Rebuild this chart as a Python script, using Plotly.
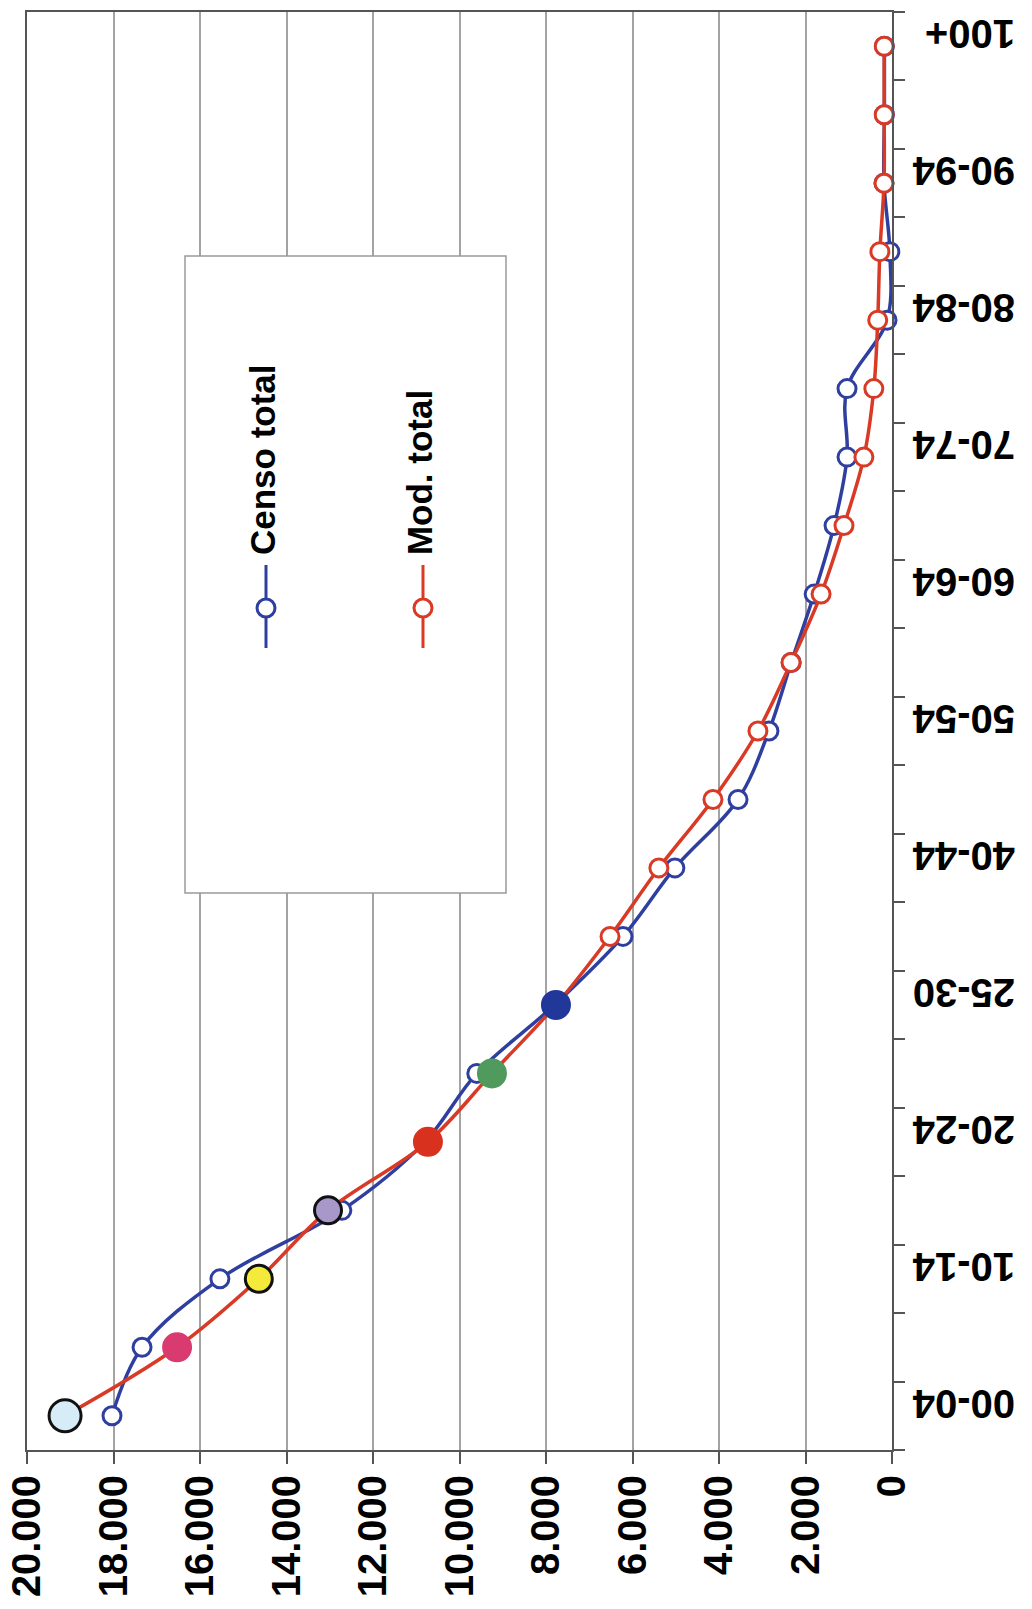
import plotly.graph_objects as go

# ---- data ----
age_index = list(range(21))
tick_positions = [0, 2, 4, 6, 8, 10, 12, 14, 16, 18, 20]
tick_labels = ["00-04", "10-14", "20-24", "25-30", "40-44", "50-54",
               "60-64", "70-74", "80-84", "90-94", "100+"]
censo_total = [18035, 17340, 15540, 12720, 10800, 9600, 7800, 6220, 5020, 3560,
               2845, 2330, 1800, 1340, 1040, 1040, 115, 50, 185, 175, 175]
mod_total = [19120, 16530, 14640, 13040, 10730, 9250, 7770, 6520, 5390, 4140,
             3100, 2335, 1640, 1110, 650, 420, 330, 280, 185, 180, 180]
highlight_index = [0, 1, 2, 3, 4, 5, 6]
highlight_colors = ["#d6edf7", "#d93a70", "#f3ea3a", "#a898c9", "#d8321f", "#4f9a5c", "#22379a"]
highlight_outline = ["#111111", "#d93a70", "#111111", "#111111", "#d8321f", "#4f9a5c", "#22379a"]
highlight_sizes = [32, 27, 27, 27, 27, 27, 27]
x_ticks = [0, 2000, 4000, 6000, 8000, 10000, 12000, 14000, 16000, 18000, 20000]
x_tick_text = ["0", "2.000", "4.000", "6.000", "8.000", "10.000",
               "12.000", "14.000", "16.000", "18.000", "20.000"]

BLUE = "#2f3f9f"
RED = "#d93a26"
FONT = "Liberation Sans, Arial, sans-serif"

fig = go.Figure()

fig.add_trace(go.Scatter(
    x=censo_total, y=age_index, mode="lines+markers", name="Censo total",
    line=dict(color=BLUE, width=3.5, shape="spline", smoothing=1.0),
    marker=dict(symbol="circle", size=18, color="white", opacity=1,
                line=dict(color=BLUE, width=3)),
    showlegend=False, cliponaxis=False,
))
fig.add_trace(go.Scatter(
    x=mod_total, y=age_index, mode="lines+markers", name="Mod. total",
    line=dict(color=RED, width=3.5, shape="spline", smoothing=1.0),
    marker=dict(symbol="circle", size=18, color="white", opacity=1,
                line=dict(color=RED, width=3)),
    showlegend=False, cliponaxis=False,
))
fig.add_trace(go.Scatter(
    x=[mod_total[i] for i in highlight_index],
    y=[age_index[i] for i in highlight_index],
    mode="markers",
    marker=dict(size=highlight_sizes, color=highlight_colors, opacity=1,
                line=dict(color=highlight_outline, width=3)),
    showlegend=False, cliponaxis=False,
))

# page body has an 8px margin: compensate so the plot lands where the reference has it
OFF = 8
W, H = 1032 - OFF, 1609 - OFF
PL, PR, PT, PB = 27, 892, 12, 1450          # target viewport pixels
PW, PH = PR - PL, PB - PT
lx0, lx1 = (185 - PL) / PW, (506 - PL) / PW
ly0, ly1 = (PB - 893) / PH, (PB - 256) / PH
shapes = [dict(type="rect", xref="paper", yref="paper", x0=lx0, x1=lx1, y0=ly0, y1=ly1,
               line=dict(color="#9a9a9a", width=1.5), fillcolor="white", layer="above")]
entries = [("Censo total", BLUE, (266 - PL) / PW), ("Mod. total", RED, (423 - PL) / PW)]
annotations = []
for name, col, xp in entries:
    shapes.append(dict(type="line", xref="paper", yref="paper", x0=xp, x1=xp,
                       y0=(PB - 648) / PH, y1=(PB - 565) / PH,
                       line=dict(color=col, width=3), layer="above"))
    shapes.append(dict(type="circle", xref="paper", yref="paper", xsizemode="pixel",
                       ysizemode="pixel", xanchor=xp, yanchor=(PB - 608) / PH,
                       x0=-9, x1=9, y0=-9, y1=9, fillcolor="white",
                       line=dict(color=col, width=3), layer="above"))
    annotations.append(dict(text=name, xref="paper", yref="paper", x=xp - 0.004,
                            y=(PB - 557) / PH, xanchor="center", yanchor="bottom",
                            textangle=-90, showarrow=False,
                            font=dict(family=FONT, size=35, color="black", weight="bold")))

fig.update_layout(
    width=W, height=H,
    margin=dict(l=PL - OFF, r=W - (PR - OFF), t=PT - OFF, b=H - (PB - OFF)),
    paper_bgcolor="white", plot_bgcolor="white",
    shapes=shapes, annotations=annotations,
    showlegend=False,
)
fig.update_xaxes(
    range=[20000, 0], tickvals=x_ticks, ticktext=x_tick_text, tickangle=-90,
    showgrid=True, gridcolor="#a3a3a3", gridwidth=1.5,
    showline=True, linecolor="#555555", linewidth=2, mirror=True,
    ticks="outside", ticklen=12, tickcolor="#555555", tickwidth=1.5,
    ticklabelstandoff=-5, automargin=False, ticklabeloverflow="allow",
    tickfont=dict(family=FONT, size=40, color="black", weight="bold"),
    zeroline=False,
)
fig.update_yaxes(
    range=[-0.5, 20.5], side="right", tickvals=tick_positions, ticktext=tick_labels,
    tickangle=180, ticks="", showgrid=False, zeroline=False, automargin=False,
    showline=True, linecolor="#555555", linewidth=2, mirror=True,
    ticklabelstandoff=113, ticklabeloverflow="allow",
    tickfont=dict(family=FONT, size=40, color="black", weight="bold"),
    minor=dict(tickvals=[i - 0.5 for i in range(22)], ticks="outside", ticklen=11,
               tickcolor="#555555", tickwidth=1.5, showgrid=False),
)

fig.write_html("out.html")
